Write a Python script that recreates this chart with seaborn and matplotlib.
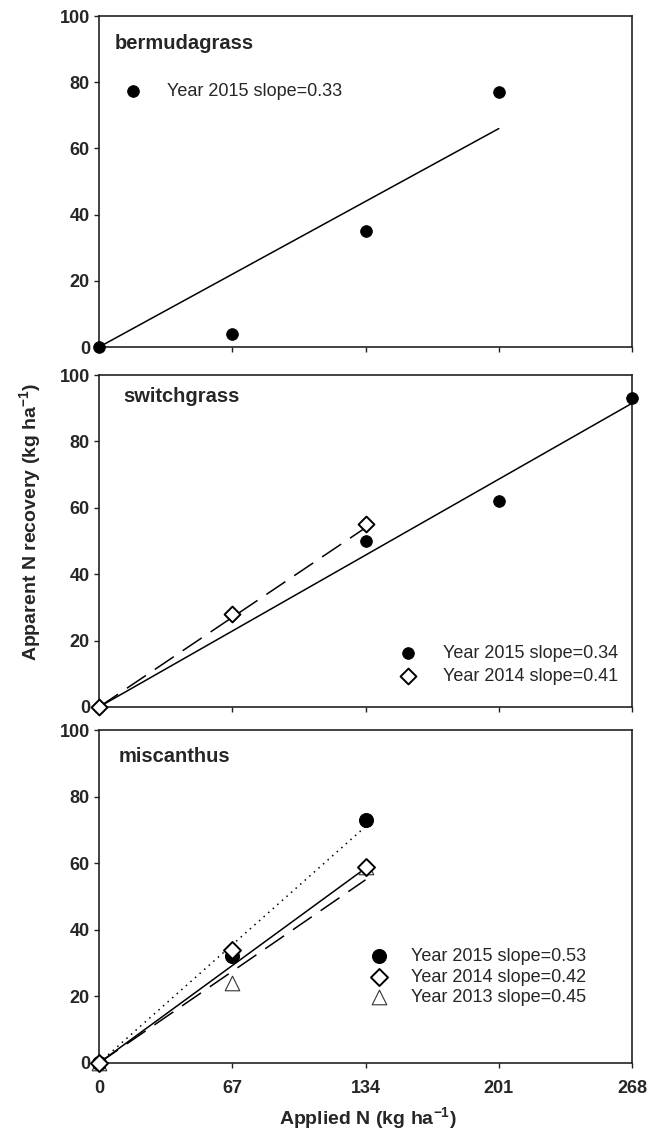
import matplotlib
matplotlib.use("Agg")
import matplotlib.pyplot as plt
import seaborn as sns

# ---------------- data ----------------
x_ticks = [0, 67, 134, 201, 268]
y_ticks = [0, 20, 40, 60, 80, 100]

berm_n = [0, 67, 134, 201]
berm_2015 = [0, 4, 35, 77]
berm_fit_n = [0, 201]
berm_fit_2015 = [0, 66]

switch_n_2015 = [0, 134, 201, 268]
switch_2015 = [0, 50, 62, 93]
switch_fit_n_2015 = [0, 268]
switch_fit_2015 = [0, 91.5]
switch_n_2014 = [0, 67, 134]
switch_2014 = [0, 28, 55]
switch_fit_n_2014 = [0, 134]
switch_fit_2014 = [0, 54]

misc_n = [0, 67, 134]
misc_2015 = [0, 32, 73]
misc_2014 = [0, 34, 59]
misc_2013 = [0, 24, 59]
misc_fit_n = [0, 134]
misc_fit_2015 = [0, 71]
misc_fit_2014 = [0, 58.5]
misc_fit_2013 = [0, 55]

panel_names = ["bermudagrass", "switchgrass", "miscanthus"]
labels_berm = ["Year 2015 slope=0.33"]
labels_switch = ["Year 2015 slope=0.34", "Year 2014 slope=0.41"]
labels_misc = ["Year 2015 slope=0.53", "Year 2014 slope=0.42", "Year 2013 slope=0.45"]

# ---------------- style ----------------
sns.set_theme(style="ticks")
plt.rcParams['font.family'] = ['Liberation Sans', 'DejaVu Sans']
plt.rcParams['mathtext.default'] = 'regular'

TICK_FS = 13
TITLE_FS = 14.5
LEG_FS = 13
LABEL_FS = 14

fig = plt.figure(figsize=(6.57, 11.29), dpi=100)
left, width = 0.1507, 0.8113
ax1 = fig.add_axes([left, 0.6926, width, 0.2932])
ax2 = fig.add_axes([left, 0.3738, width, 0.2940])
ax3 = fig.add_axes([left, 0.0585, width, 0.2949])

spine_col = "#222222"

def style_axis(ax, show_x):
    ax.set_xlim(0, 268)
    ax.set_ylim(0, 100)
    ax.set_xticks(x_ticks)
    ax.set_yticks(y_ticks)
    ax.set_yticklabels([str(v) for v in y_ticks], fontweight='bold', fontsize=TICK_FS)
    if show_x:
        ax.set_xticklabels([str(v) for v in x_ticks], fontweight='bold', fontsize=TICK_FS)
    else:
        ax.set_xticklabels([])
    ax.tick_params(direction='out', length=3.5, width=1, color=spine_col, pad=3)
    ax.tick_params(axis='x', pad=9)
    for s in ax.spines.values():
        s.set_visible(True)
        s.set_linewidth(1.2)
        s.set_color(spine_col)
    ax.set_xlabel("")
    ax.set_ylabel("")

def line(ax, x, y, ls):
    sns.lineplot(x=x, y=y, ax=ax, color='black', linewidth=1.1, linestyle=ls,
                 estimator=None, sort=False, legend=False)

DASH = (0, (15, 7))
DOT = (0, (1, 3))

circle_kw = dict(marker='o', color='black', edgecolor='black', clip_on=False, zorder=5)
diamond_kw = dict(marker='D', facecolor='white', edgecolor='black', linewidth=1.4,
                  clip_on=False, zorder=6)
tri_kw = dict(marker='^', facecolor='white', edgecolor='#333333', linewidth=0.8,
              clip_on=False, zorder=4)

leg_kw = dict(frameon=False, fontsize=LEG_FS, borderaxespad=0, loc='center left')

# ---- panel 1 ----
line(ax1, berm_fit_n, berm_fit_2015, '-')
h1 = sns.scatterplot(x=berm_n, y=berm_2015, ax=ax1, s=70, **circle_kw).collections[-1]
style_axis(ax1, False)
ax1.text(0.03, 0.918, panel_names[0], transform=ax1.transAxes, fontweight='bold',
         fontsize=TITLE_FS, va='center', ha='left')
ax1.legend([h1], labels_berm, bbox_to_anchor=(0.017, 0.773), handletextpad=0.85, **leg_kw)

# ---- panel 2 ----
line(ax2, switch_fit_n_2015, switch_fit_2015, '-')
line(ax2, switch_fit_n_2014, switch_fit_2014, DASH)
h2a = sns.scatterplot(x=switch_n_2015, y=switch_2015, ax=ax2, s=70, **circle_kw).collections[-1]
h2b = sns.scatterplot(x=switch_n_2014, y=switch_2014, ax=ax2, s=65, **diamond_kw).collections[-1]
style_axis(ax2, False)
ax2.text(0.045, 0.934, panel_names[1], transform=ax2.transAxes, fontweight='bold',
         fontsize=TITLE_FS, va='center', ha='left')
ax2.legend([h2a, h2b], labels_switch, bbox_to_anchor=(0.533, 0.127), handletextpad=0.9,
           labelspacing=0.35, **leg_kw)

# ---- panel 3 ----
line(ax3, misc_fit_n, misc_fit_2015, DOT)
line(ax3, misc_fit_n, misc_fit_2014, '-')
line(ax3, misc_fit_n, misc_fit_2013, DASH)
h3c = sns.scatterplot(x=misc_n, y=misc_2013, ax=ax3, s=110, **tri_kw).collections[-1]
h3b = sns.scatterplot(x=misc_n, y=misc_2014, ax=ax3, s=75, **diamond_kw).collections[-1]
h3a = sns.scatterplot(x=misc_n, y=misc_2015, ax=ax3, s=100, **circle_kw).collections[-1]
style_axis(ax3, True)
ax3.text(0.036, 0.919, panel_names[2], transform=ax3.transAxes, fontweight='bold',
         fontsize=TITLE_FS, va='center', ha='left')
ax3.legend([h3a, h3b, h3c], labels_misc, bbox_to_anchor=(0.477, 0.258), handletextpad=0.8,
           labelspacing=0.2, **leg_kw)

fig.text(0.046, 0.538, r"Apparent N recovery (kg ha$^{-1}$)", rotation=90,
         fontweight='bold', fontsize=LABEL_FS, ha='center', va='center')
fig.text(0.56, 0.0095, r"Applied N (kg ha$^{-1}$)", fontweight='bold', fontsize=LABEL_FS,
         ha='center', va='center')

fig.savefig("out.png", dpi=100)
